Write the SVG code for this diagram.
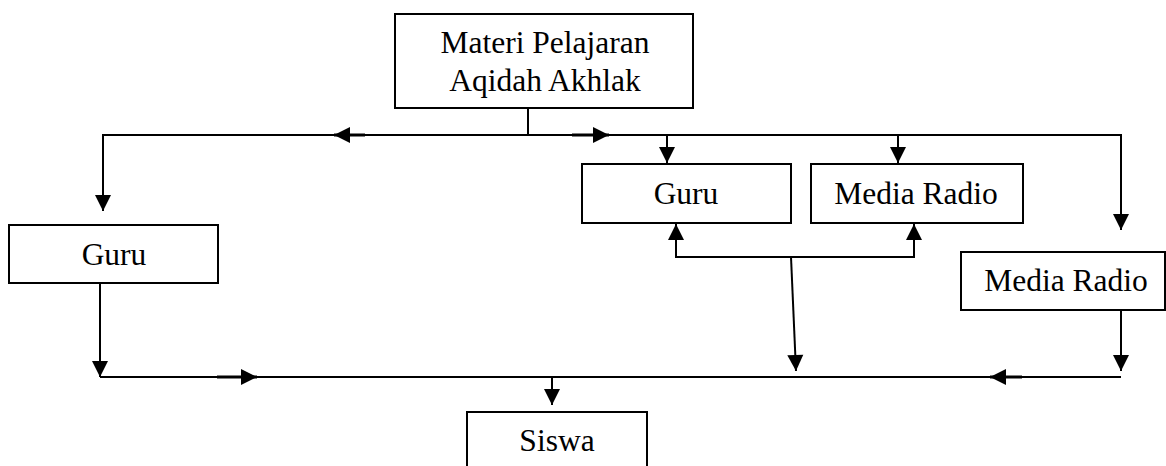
<svg xmlns="http://www.w3.org/2000/svg" width="1166" height="466" viewBox="0 0 1166 466">
<style>
.box{fill:#fff;stroke:#000;stroke-width:2}
.lbl{font-family:"Liberation Serif","Times New Roman",serif;font-size:31.5px;fill:#000;text-anchor:middle}
.ln{fill:none;stroke:#000;stroke-width:2}
.stub{fill:none;stroke:#000;stroke-width:3}
</style>
<defs>
<marker id="ah" markerUnits="userSpaceOnUse" markerWidth="18" markerHeight="18" refX="16" refY="8" orient="auto" overflow="visible">
<path d="M0,0 L16,8 L0,16 Z" fill="#000"/>
</marker>
</defs>
<g id="connectors">
<line class="ln" x1="528" y1="108" x2="528" y2="135"/>
<polyline class="ln" points="103,211 103,135 1121,135 1121,230" marker-end="url(#ah)"/>
<line class="ln" x1="103" y1="135" x2="103" y2="211" marker-end="url(#ah)"/>
<line class="stub" x1="365" y1="135" x2="334" y2="135" marker-end="url(#ah)"/>
<line class="stub" x1="572" y1="135" x2="609" y2="135" marker-end="url(#ah)"/>
<line class="ln" x1="667" y1="135" x2="667" y2="163" marker-end="url(#ah)"/>
<line class="ln" x1="898" y1="135" x2="898" y2="163" marker-end="url(#ah)"/>
<polyline class="ln" points="676,224 676,257 914,257 914,224"/>
<line class="ln" x1="676" y1="257" x2="676" y2="224" marker-end="url(#ah)"/>
<line class="ln" x1="914" y1="257" x2="914" y2="224" marker-end="url(#ah)"/>
<line class="ln" x1="791" y1="257" x2="796" y2="371" marker-end="url(#ah)"/>
<line class="ln" x1="100" y1="283" x2="100" y2="377" marker-end="url(#ah)"/>
<line class="ln" x1="1121" y1="310" x2="1121" y2="371" marker-end="url(#ah)"/>
<line class="ln" x1="100" y1="377" x2="1121" y2="377"/>
<line class="stub" x1="217" y1="377" x2="257" y2="377" marker-end="url(#ah)"/>
<line class="stub" x1="1022" y1="377" x2="990" y2="377" marker-end="url(#ah)"/>
<line class="ln" x1="552" y1="377" x2="552" y2="405" marker-end="url(#ah)"/>
</g>
<g id="materi">
<rect class="box" x="395" y="14" width="298" height="94"/>
<text class="lbl" x="545" y="53">Materi Pelajaran</text>
<text class="lbl" x="545" y="91">Aqidah Akhlak</text>
</g>
<g id="guru-left">
<rect class="box" x="9" y="225" width="209" height="58"/>
<text class="lbl" x="114" y="265">Guru</text>
</g>
<g id="guru-mid">
<rect class="box" x="582" y="164" width="209" height="59"/>
<text class="lbl" x="686" y="204">Guru</text>
</g>
<g id="radio-mid">
<rect class="box" x="811" y="164" width="212" height="59"/>
<text class="lbl" x="916" y="204">Media Radio</text>
</g>
<g id="radio-right">
<rect class="box" x="961" y="252" width="204" height="58"/>
<text class="lbl" x="1066" y="291">Media Radio</text>
</g>
<g id="siswa">
<rect class="box" x="467" y="412" width="180" height="70"/>
<text class="lbl" x="557" y="451">Siswa</text>
</g>
</svg>
